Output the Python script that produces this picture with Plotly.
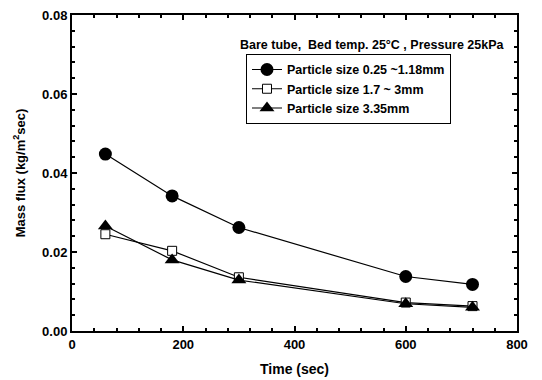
import plotly.graph_objects as go

time = [60, 180, 300, 600, 720]
s1 = [0.0448, 0.0342, 0.0262, 0.0138, 0.0118]
s2 = [0.0245, 0.0203, 0.0136, 0.0072, 0.0063]
s3 = [0.0266, 0.0180, 0.0129, 0.0069, 0.0060]
names = ["Particle size 0.25 ~1.18mm", "Particle size 1.7 ~ 3mm", "Particle size 3.35mm"]

FONT = "Arial, Liberation Sans, sans-serif"
fig = go.Figure()
fig.add_trace(go.Scatter(x=time, y=s1, name=names[0], mode="lines+markers",
                         line=dict(color="black", width=1.2),
                         marker=dict(symbol="circle", size=13, color="black")))
fig.add_trace(go.Scatter(x=time, y=s2, name=names[1], mode="lines+markers",
                         line=dict(color="black", width=1.2),
                         marker=dict(symbol="square", size=9, color="white",
                                     line=dict(color="black", width=1))))
fig.add_trace(go.Scatter(x=time, y=s3, name=names[2], mode="lines+markers",
                         line=dict(color="black", width=1.2),
                         marker=dict(symbol="triangle-up", size=13, color="black")))

axis_common = dict(showline=True, linecolor="black", linewidth=2, mirror="ticks",
                   ticks="inside", ticklen=5, tickcolor="black", tickwidth=1.5, showgrid=False,
                   zeroline=False, automargin=False,
                   tickfont=dict(family=FONT, size=13, color="black", weight="bold"))
fig.update_xaxes(range=[0, 800], tickvals=[0, 200, 400, 600, 800],
                 minor=dict(dtick=40, ticks="inside", ticklen=3, tickcolor="black"),
                 title=dict(text="Time (sec)", font=dict(family=FONT, size=14, color="black", weight="bold"), standoff=14),
                 **axis_common)
fig.update_yaxes(range=[0, 0.08], tickvals=[0, 0.02, 0.04, 0.06, 0.08], tickformat=".2f",
                 minor=dict(dtick=0.004, ticks="inside", ticklen=3, tickcolor="black"),
                 title=dict(text="Mass flux (kg/m<sup>2</sup>sec)", font=dict(family=FONT, size=13, color="black", weight="bold"), standoff=14),
                 **axis_common)

fig.add_annotation(x=0.975, y=0.905, xref="paper", yref="paper", xanchor="right", yanchor="middle",
                   text="Bare tube,  Bed temp. 25°C , Pressure 25kPa", showarrow=False,
                   font=dict(family=FONT, size=12.5, color="black", weight="bold"))

fig.update_layout(
    width=542, height=380,
    margin=dict(l=72, r=25, t=15, b=49),
    plot_bgcolor="white", paper_bgcolor="white",
    showlegend=True,
    legend=dict(x=0.391, y=0.877, xanchor="left", yanchor="top",
                bordercolor="black", borderwidth=1, bgcolor="white",
                font=dict(family=FONT, size=12.5, color="black", weight="bold"),
                tracegroupgap=0, itemwidth=30),
)
fig.write_html("out.html")
